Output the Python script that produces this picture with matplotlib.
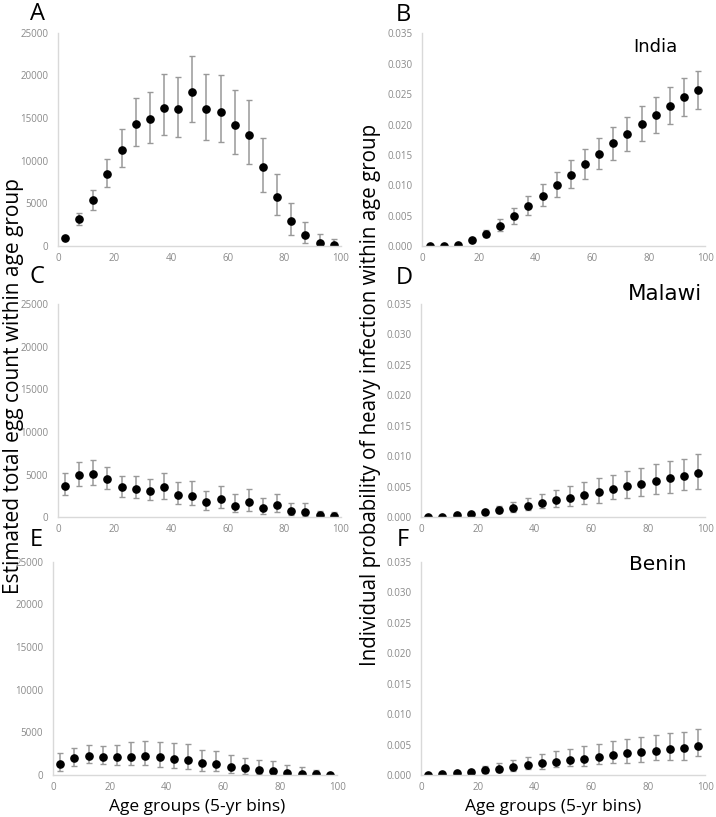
import numpy as np
import matplotlib
matplotlib.use("Agg")
from matplotlib import pyplot as plt

plt.rcParams['font.family'] = ['Open Sans', 'DejaVu Sans']

# age group midpoints (5-yr bins)
ages = [2.5, 7.5, 12.5, 17.5, 22.5, 27.5, 32.5, 37.5, 42.5, 47.5,
        52.5, 57.5, 62.5, 67.5, 72.5, 77.5, 82.5, 87.5, 92.5, 97.5]

# A: India egg count
india_egg = [900, 3100, 5400, 8400, 11300, 14300, 14900, 16200, 16100, 18000,
             16100, 15700, 14200, 13000, 9300, 5700, 2900, 1250, 400, 100]
india_egg_hi = [1000, 3840, 6540, 10190, 13750, 17360, 18060, 20140, 19830, 22250,
                20140, 20020, 18300, 17120, 12660, 8380, 5050, 2780, 1450, 780]
india_egg_lo = [800, 2430, 4230, 6900, 9200, 11720, 12030, 13010, 12810, 14540,
                12460, 12220, 10740, 9600, 6350, 3570, 1330, 310, 120, 0]

# B: India probability of heavy infection
india_prob = [0.0000, 0.0000, 0.0002, 0.0009, 0.0020, 0.0033, 0.0049, 0.0065, 0.0083, 0.0100,
              0.0117, 0.0135, 0.0152, 0.0169, 0.0185, 0.0201, 0.0216, 0.0230, 0.0245, 0.0257]
india_prob_hi = [0.0000, 0.0001, 0.0003, 0.0013, 0.0026, 0.0044, 0.0063, 0.0082, 0.0102, 0.0121,
                 0.0141, 0.0159, 0.0177, 0.0196, 0.0212, 0.0230, 0.0245, 0.0262, 0.0276, 0.0289]
india_prob_lo = [0.0000, 0.0000, 0.0001, 0.0007, 0.0014, 0.0024, 0.0036, 0.0051, 0.0066, 0.0081,
                 0.0095, 0.0111, 0.0126, 0.0142, 0.0157, 0.0173, 0.0186, 0.0201, 0.0214, 0.0226]

# C: Malawi egg count
malawi_egg = [3700, 4980, 5100, 4480, 3490, 3300, 3100, 3500, 2630, 2510,
              1770, 2120, 1330, 1770, 1060, 1370, 670, 590, 200, 120]
malawi_egg_hi = [5220, 6520, 6750, 5930, 4870, 4830, 4510, 5180, 4160, 4240,
                 3100, 3610, 2710, 3300, 2240, 2750, 1690, 1690, 750, 590]
malawi_egg_lo = [2630, 3690, 3810, 3260, 2360, 2240, 2040, 2160, 1570, 1370,
                 860, 1100, 590, 710, 390, 590, 200, 80, 0, 0]

# D: Malawi probability
malawi_prob = [0.0000, 0.0001, 0.0003, 0.0005, 0.0009, 0.0012, 0.0015, 0.0019, 0.0024, 0.0028,
               0.0032, 0.0037, 0.0042, 0.0047, 0.0051, 0.0055, 0.0059, 0.0064, 0.0067, 0.0073]
malawi_prob_hi = [0.0000, 0.0001, 0.0004, 0.0007, 0.0012, 0.0019, 0.0025, 0.0032, 0.0038, 0.0045,
                  0.0051, 0.0058, 0.0064, 0.0070, 0.0075, 0.0081, 0.0087, 0.0093, 0.0096, 0.0103]
malawi_prob_lo = [0.0000, 0.0000, 0.0002, 0.0003, 0.0006, 0.0007, 0.0008, 0.0012, 0.0015, 0.0016,
                  0.0018, 0.0022, 0.0024, 0.0029, 0.0031, 0.0035, 0.0038, 0.0040, 0.0045, 0.0046]

# E: Benin egg count
benin_egg = [1250, 1960, 2190, 2120, 2120, 2150, 2230, 2120, 1880, 1720,
             1410, 1250, 900, 780, 630, 430, 270, 160, 80, 40]
benin_egg_hi = [2550, 3130, 3490, 3450, 3490, 3840, 3960, 3920, 3720, 3600,
                2980, 2860, 2390, 2040, 1800, 1610, 1140, 900, 550, 200]
benin_egg_lo = [470, 1020, 1370, 1290, 1180, 1140, 1140, 980, 780, 670,
                470, 430, 240, 160, 80, 40, 0, 0, 0, 0]

# F: Benin probability
benin_prob = [0.0000, 0.0001, 0.0003, 0.0005, 0.0008, 0.0010, 0.0013, 0.0016, 0.0020, 0.0022,
              0.0025, 0.0027, 0.0030, 0.0033, 0.0036, 0.0038, 0.0040, 0.0043, 0.0044, 0.0047]
benin_prob_hi = [0.0000, 0.0001, 0.0004, 0.0008, 0.0014, 0.0020, 0.0025, 0.0029, 0.0034, 0.0039,
                 0.0042, 0.0047, 0.0051, 0.0055, 0.0059, 0.0062, 0.0065, 0.0069, 0.0071, 0.0075]
benin_prob_lo = [0.0000, 0.0000, 0.0002, 0.0003, 0.0004, 0.0005, 0.0007, 0.0010, 0.0010, 0.0013,
                 0.0014, 0.0015, 0.0018, 0.0019, 0.0020, 0.0021, 0.0024, 0.0024, 0.0024, 0.0031]

egg_ticks = [0, 5000, 10000, 15000, 20000, 25000]
prob_ticks = [0.000, 0.005, 0.010, 0.015, 0.020, 0.025, 0.030, 0.035]
x_ticks = [0, 20, 40, 60, 80, 100]

W, H = 716, 817
fig = plt.figure(figsize=(W / 100, H / 100), dpi=100)

# (letter, country, values, upper, lower, axes rect, kind, letter pos px, country pos px, country size)
panels = [
    ("A", None, india_egg, india_egg_hi, india_egg_lo, [0.081, 0.699, 0.395, 0.261], "egg", (30, 2), None, 0),
    ("B", "India", india_prob, india_prob_hi, india_prob_lo, [0.590, 0.699, 0.395, 0.260], "prob", (396, 3), (655, 47), 13),
    ("C", None, malawi_egg, malawi_egg_hi, malawi_egg_lo, [0.081, 0.367, 0.395, 0.261], "egg", (30, 265), None, 0),
    ("D", "Malawi", malawi_prob, malawi_prob_hi, malawi_prob_lo, [0.588, 0.367, 0.397, 0.261], "prob", (396, 266), (665, 294), 15.5),
    ("E", None, benin_egg, benin_egg_hi, benin_egg_lo, [0.074, 0.0514, 0.397, 0.261], "egg", (30, 528), None, 0),
    ("F", "Benin", benin_prob, benin_prob_hi, benin_prob_lo, [0.588, 0.0514, 0.397, 0.261], "prob", (397, 528), (658, 565), 14.5),
]

grey = "#d9d9d9"
for letter, country, y, hi, lo, rect, kind, lpos, cpos, csize in panels:
    ax = fig.add_axes(rect)
    y = np.array(y)
    yerr = [y - np.array(lo), np.array(hi) - y]
    ax.errorbar(ages, y, yerr=yerr, fmt='o', color='black', markersize=5.2,
                ecolor='#999999', elinewidth=1.1, capsize=2.2, capthick=1.0)
    ax.set_xlim(0, 100)
    ax.set_xticks(x_ticks)
    if kind == "egg":
        ax.set_ylim(0, 25000)
        ax.set_yticks(egg_ticks)
        ax.set_yticklabels([str(t) for t in egg_ticks])
    else:
        ax.set_ylim(0, 0.035)
        ax.set_yticks(prob_ticks)
        ax.set_yticklabels(["%.3f" % t for t in prob_ticks])
    for s in ("top", "right"):
        ax.spines[s].set_visible(False)
    for s in ("left", "bottom"):
        ax.spines[s].set_color(grey)
        ax.spines[s].set_linewidth(1.0)
    ax.tick_params(length=0, labelsize=7, labelcolor="#8a8a8a")
    ax.tick_params(axis='y', pad=7)
    ax.tick_params(axis='x', pad=5)
    ax.patch.set_alpha(0)
    fig.text(lpos[0] / W, 1 - lpos[1] / H, letter, fontsize=17, va='top', ha='left')
    if country:
        fig.text(cpos[0] / W, 1 - cpos[1] / H, country, fontsize=csize,
                 family='DejaVu Sans', ha='center', va='center')

fig.text(0.019, 0.527, "Estimated total egg count within age group", rotation=90,
         fontsize=15, ha='center', va='center')
fig.text(0.517, 0.517, "Individual probability of heavy infection within age group", rotation=90,
         fontsize=14.8, ha='center', va='center')
fig.text(197 / W, 0.003, "Age groups (5-yr bins)", fontsize=12.5, ha='center', va='bottom')
fig.text(553 / W, 0.003, "Age groups (5-yr bins)", fontsize=12.5, ha='center', va='bottom')

fig.savefig("out.png", dpi=100)
